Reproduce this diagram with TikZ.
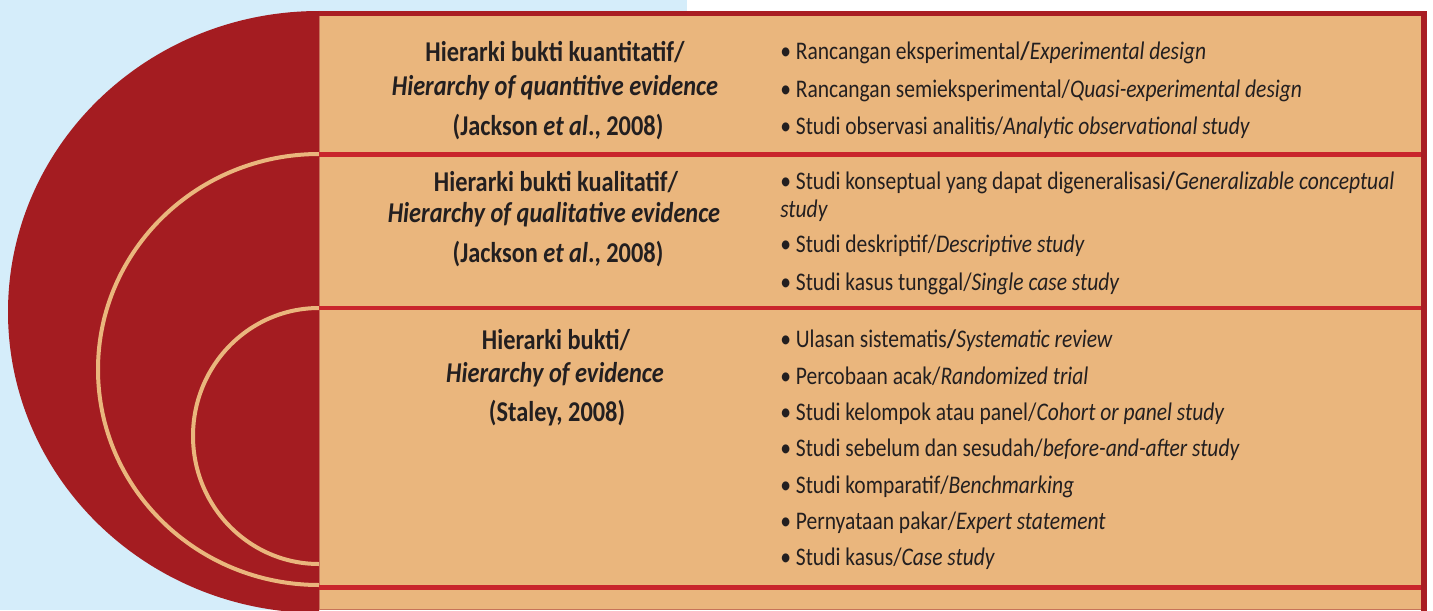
\documentclass[tikz,border=0pt]{standalone}
\usepackage{fontspec}
\setmainfont{Carlito}[FakeStretch=0.85]
\definecolor{bgblue}{HTML}{D5EDFA}
\definecolor{shapered}{HTML}{A41C21}
\definecolor{creamfill}{HTML}{EAB67D}
\definecolor{divred}{HTML}{C9252C}
\definecolor{outred}{HTML}{A91E24}
\definecolor{edgeline}{HTML}{C7735A}
\definecolor{txt}{HTML}{231F20}
\begin{document}
\begin{tikzpicture}[x=0.75pt,y=-0.75pt,
  hdr/.style={anchor=base, font=\fontsize{21.5}{24}\selectfont\bfseries, text=txt, inner sep=0pt},
  item/.style={anchor=base west, font=\fontsize{19}{22}\selectfont, text=txt, inner sep=0pt},
  ring/.style={draw=creamfill, line width=3pt},
  divider/.style={draw=divred, line width=3.4pt},
  border/.style={draw=outred, line width=3.9pt}]
\useasboundingbox (0,0) rectangle (1433,610);
% background
\fill[bgblue] (0,0) rectangle (687,610);
\fill[white] (687,0) rectangle (1433,610);
% half disc with rings
\begin{scope}
  \clip (0,0) rectangle (319,610);
  \fill[shapered] (319,312) ellipse [x radius=311, y radius=301];
  \draw[ring] (319,369.5) ellipse [x radius=221, y radius=215.5];
  \draw[ring] (319,436) ellipse [x radius=126, y radius=128];
\end{scope}
% box
\fill[creamfill] (319,11) rectangle (1427,610);
\draw[edgeline, line width=0.75pt] (319.5,11) -- (319.5,610);
\draw[edgeline, line width=0.75pt] (319,609.5) -- (1424,609.5);
\coordinate (d1l) at (319,154.7); \coordinate (d1r) at (1424,154.7);
\coordinate (d2l) at (319,308);   \coordinate (d2r) at (1424,308);
\coordinate (d3l) at (319,587.5); \coordinate (d3r) at (1424,587.5);
\draw[divider] (d1l) -- (d1r);
\draw[divider] (d2l) -- (d2r);
\draw[divider] (d3l) -- (d3r);
\coordinate (tl) at (319,13.3); \coordinate (tr) at (1424,13.3); \coordinate (br) at (1424,612);
\draw[border] (tl) -- (tr) -- (br);
% section 1
\node[hdr] (h1a) at (555,62) {Hierarki bukti kuantitatif/};
\node[hdr] (h1b) at (555,95) {\itshape Hierarchy of quantitive evidence};
\node[hdr] (h1c) at (558,135) {(Jackson \textit{et al}., 2008)};
\node[item] (i1a) at (780,60) {• Rancangan eksperimental\textbf{/}\textit{Experimental design}};
\node[item] (i1b) at (780,97) {• Rancangan semieksperimental/\textit{Quasi-experimental design}};
\node[item] (i1c) at (780,134) {• Studi observasi analitis/\textit{Analytic observational study}};
% section 2
\node[hdr] (h2a) at (556,191) {Hierarki bukti kualitatif/};
\node[hdr] (h2b) at (554,222) {\itshape Hierarchy of qualitative evidence};
\node[hdr] (h2c) at (558,262) {(Jackson \textit{et al}., 2008)};
\node[item] (i2a) at (780,189) {• Studi konseptual yang dapat digeneralisasi\textbf{/}\textit{Generalizable conceptual}};
\node[item] (i2b) at (780,217) {\textit{study}};
\node[item] (i2c) at (780,252) {• Studi deskriptif/\textit{Descriptive study}};
\node[item] (i2d) at (780,290) {• Studi kasus tunggal/\textit{Single case study}};
% section 3
\node[hdr] (h3a) at (556,349) {Hierarki bukti/};
\node[hdr] (h3b) at (555,382) {\itshape Hierarchy of evidence};
\node[hdr] (h3c) at (557,421) {(Staley, 2008)};
\node[item] (i3a) at (780,347) {• Ulasan sistematis\textbf{/}\textit{Systematic review}};
\node[item] (i3b) at (780,384) {• Percobaan acak/\textit{Randomized trial}};
\node[item] (i3c) at (780,420) {• Studi kelompok atau panel/\textit{Cohort or panel study}};
\node[item] (i3d) at (780,456) {• Studi sebelum dan sesudah/\textit{before-and-after study}};
\node[item] (i3e) at (780,493) {• Studi komparatif/\textit{Benchmarking}};
\node[item] (i3f) at (780,529) {• Pernyataan pakar/\textit{Expert statement}};
\node[item] (i3g) at (780,565) {• Studi kasus/\textit{Case study}};
\end{tikzpicture}
\end{document}
